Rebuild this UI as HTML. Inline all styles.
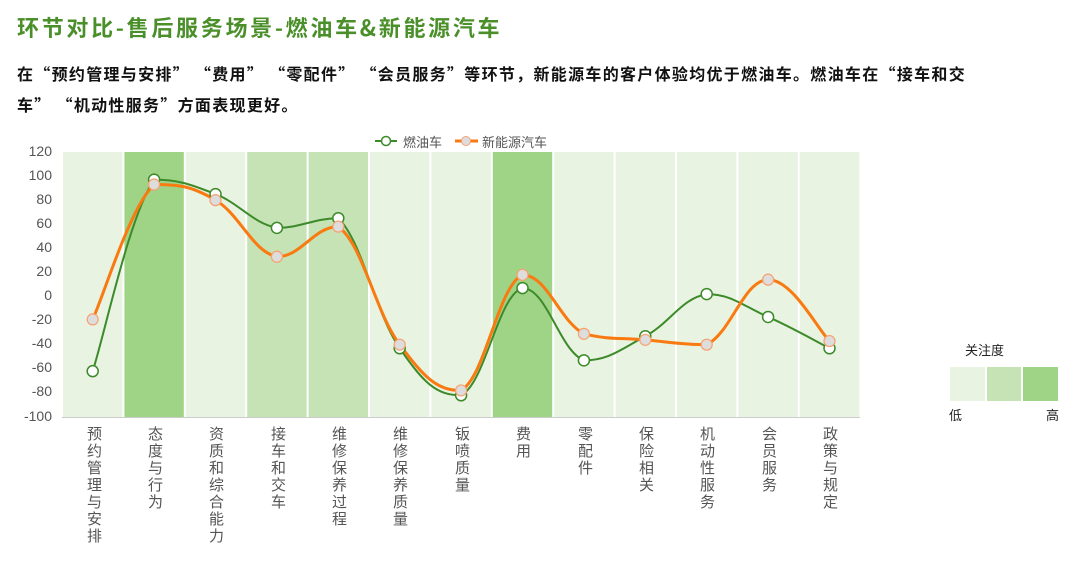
<!DOCTYPE html>
<html><head><meta charset="utf-8"><style>
body{margin:0;width:1080px;height:566px;background:#fff;position:relative;overflow:hidden;font-family:"Liberation Sans","Noto Sans CJK SC",sans-serif}
.t{position:absolute;white-space:pre}
.xl{position:absolute;top:426px;writing-mode:vertical-rl;font-size:15px;color:#555;letter-spacing:2px;line-height:15px;width:16px}
.yl{position:absolute;left:10px;width:42px;text-align:right;font-size:14px;color:#555}
.sub{font-family:"Noto Sans CJK SC",sans-serif;font-size:16px;letter-spacing:1.3px;font-weight:bold;color:#111}
</style></head><body>
<div class="t" style="left:17px;top:11px;font-family:'Noto Sans CJK SC',sans-serif;font-size:22px;letter-spacing:2.7px;font-weight:bold;color:#4a8f2a">环节对比-售后服务场景-燃油车&amp;新能源汽车</div>
<div class="t sub" style="left:17px;top:61px">在“预约管理与安排” “费用” “零配件” “会员服务”等环节，新能源车的客户体验均优于燃油车。燃油车在“接车和交</div>
<div class="t sub" style="left:17px;top:92px">车” “机动性服务”方面表现更好。</div>
<svg id="s" width="1080" height="566" style="position:absolute;left:0;top:0"></svg>
<div class="yl" style="top:143px">120</div><div class="yl" style="top:167px">100</div><div class="yl" style="top:191px">80</div><div class="yl" style="top:215px">60</div><div class="yl" style="top:239px">40</div><div class="yl" style="top:263px">20</div><div class="yl" style="top:287px">0</div><div class="yl" style="top:311px">-20</div><div class="yl" style="top:335px">-40</div><div class="yl" style="top:359px">-60</div><div class="yl" style="top:383px">-80</div><div class="yl" style="top:408px">-100</div>
<div class="xl" style="left:85px">预约管理与安排</div><div class="xl" style="left:146px">态度与行为</div><div class="xl" style="left:207px">资质和综合能力</div><div class="xl" style="left:269px">接车和交车</div><div class="xl" style="left:330px">维修保养过程</div><div class="xl" style="left:391px">维修保养质量</div><div class="xl" style="left:453px">钣喷质量</div><div class="xl" style="left:514px">费用</div><div class="xl" style="left:576px">零配件</div><div class="xl" style="left:637px">保险相关</div><div class="xl" style="left:698px">机动性服务</div><div class="xl" style="left:760px">会员服务</div><div class="xl" style="left:821px">政策与规定</div>
<div class="t" style="left:403px;top:132px;font-size:13px;color:#555">燃油车</div>
<div class="t" style="left:482px;top:132px;font-size:13px;color:#555">新能源汽车</div>
<div class="t" style="left:965px;top:340px;font-size:13px;color:#222">关注度</div>
<div class="t" style="left:949px;top:405px;font-size:13px;color:#222">低</div>
<div class="t" style="left:1046px;top:405px;font-size:13px;color:#222">高</div>
<script>
var s=document.getElementById('s'),h='';
var cols=['#e8f3e1','#9fd487','#e8f3e1','#c5e3b5','#c5e3b5','#e8f3e1','#e8f3e1','#9fd487','#e8f3e1','#e8f3e1','#e8f3e1','#e8f3e1','#e8f3e1'];
var x0=62,w=61.4;
for(var i=0;i<13;i++)h+='<rect x="'+(x0+i*w+1)+'" y="152" width="'+(w-2)+'" height="265" fill="'+cols[i]+'"/>';
h+='<line x1="62" y1="417.5" x2="860" y2="417.5" stroke="#ccc"/>';
function Y(v){return 296.5-v*1.2045}
function X(i){return x0+w*(i+0.5)}
function cl(v,a,b){var lo=Math.min(a,b),hi=Math.max(a,b);return Math.max(lo,Math.min(hi,v))}
function path(d){var p=d.map(function(v,i){return[X(i),Y(v)]});var r='M'+p[0];
for(var i=0;i<p.length-1;i++){var a=p[i-1]||p[i],b=p[i],c=p[i+1],e=p[i+2]||c,t=0.2;
var y1=cl(b[1]+(c[1]-a[1])*t,b[1],c[1]),y2=cl(c[1]-(e[1]-b[1])*t,b[1],c[1]);
r+=' C'+(b[0]+(c[0]-a[0])*t)+','+y1+' '+(c[0]-(e[0]-b[0])*t)+','+y2+' '+c;}return r}
var f=[-62,97,85,57,65,-43,-82,7,-53,-33,2,-17,-43],n=[-19,93,80,33,58,-40,-78,18,-31,-36,-40,14,-37];
h+='<path d="'+path(f)+'" fill="none" stroke="#3d8a2a" stroke-width="2"/>';
h+='<path d="'+path(n)+'" fill="none" stroke="#f97a10" stroke-width="3"/>';
f.forEach(function(v,i){h+='<circle cx="'+X(i)+'" cy="'+Y(v)+'" r="5.5" fill="#fff" stroke="#3d8a2a" stroke-width="1.5"/>'});
n.forEach(function(v,i){h+='<circle cx="'+X(i)+'" cy="'+Y(v)+'" r="5.5" fill="#ddd" stroke="#f7a070" stroke-width="1.2"/>'});
h+='<line x1="375" y1="141" x2="397" y2="141" stroke="#3d8a2a" stroke-width="2"/><circle cx="386" cy="141" r="4.5" fill="#fff" stroke="#3d8a2a" stroke-width="1.5"/>';
h+='<line x1="455" y1="141" x2="478" y2="141" stroke="#f97a10" stroke-width="3"/><circle cx="466" cy="141" r="4.5" fill="#ddd" stroke="#f7a070"/>';
h+='<rect x="950" y="367" width="35" height="34" fill="#e8f3e1"/><rect x="987" y="367" width="34" height="34" fill="#c5e3b5"/><rect x="1023" y="367" width="35" height="34" fill="#9fd487"/>';
s.innerHTML=h;
</script>
</body></html>
